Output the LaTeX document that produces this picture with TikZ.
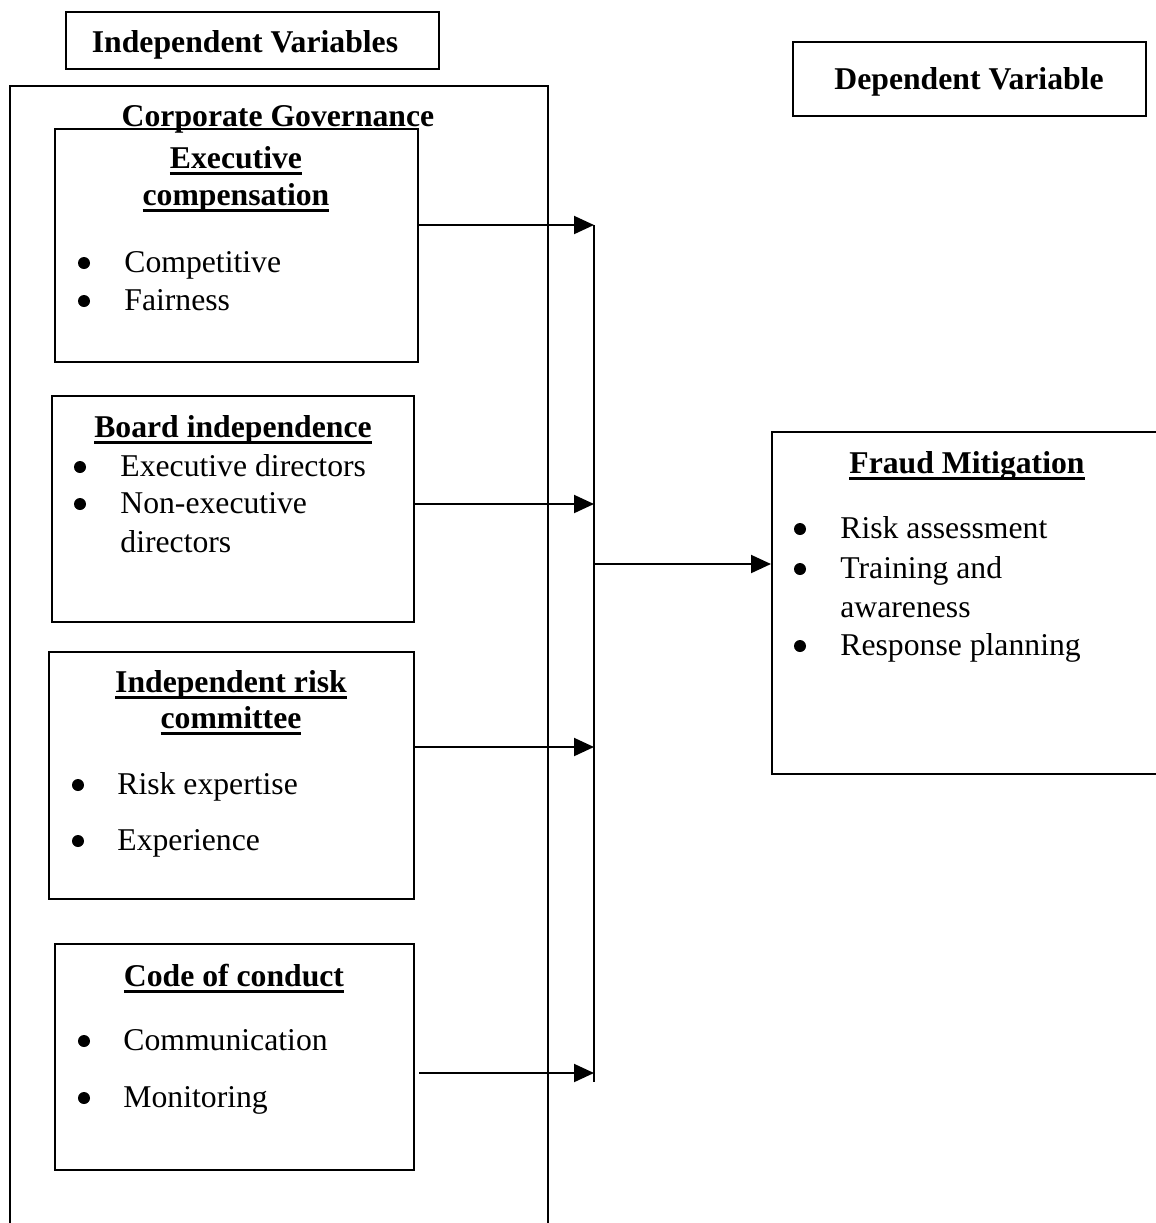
\documentclass[tikz,border=0pt]{standalone}
\usepackage{fontspec}
\setmainfont{Liberation Serif}
\usetikzlibrary{arrows.meta,fit}
\newsavebox\ulbox
\newcommand\ulbf[1]{\sbox\ulbox{\bfseries #1}\rlap{\rule[-3.3pt]{\wd\ulbox}{1.4pt}}\usebox\ulbox}
\tikzset{
  box/.style={draw, line width=1pt, inner sep=0pt},
  txt/.style={anchor=base west, inner sep=0pt, font=\fontsize{15.85}{19}\selectfont},
  ttl/.style={anchor=base, inner sep=0pt, font=\fontsize{15.85}{19}\selectfont\bfseries},
  bul/.style={circle, fill, inner sep=0pt, minimum size=6pt, yshift=4.5pt},
  arr/.style={-{Triangle[length=10pt,width=9pt]}, line width=1pt},
  bus/.style={line width=1pt}
}
\begin{document}
\begin{tikzpicture}[x=0.5pt,y=-0.5pt]
\useasboundingbox (0,0) rectangle (1156,1223);

% header boxes
\node[box, fit={(66,12) (439,69)}] (ivbox) {};
\node[ttl] (ivtxt) at (245,52) {Independent Variables};
\node[box, fit={(793,42) (1146,116)}] (dvbox) {};
\node[ttl] (dvtxt) at (969,89) {Dependent Variable};

% outer corporate governance box (open at the bottom of the page)
\node[box, fit={(10,86) (548,1260)}] (cg) {};
\node[ttl] (cgtxt) at (278,126) {Corporate Governance};

% Executive compensation
\node[box, fit={(55,129) (418,362)}] (exec) {};
\node[ttl] (exec1) at (236,168) {\ulbf{Executive}};
\node[ttl] (exec2) at (236,205) {\ulbf{compensation}};
\node[bul] (execb1) at (84,272) {};
\node[txt] (exect1) at (124,272) {Competitive};
\node[bul] (execb2) at (84,310) {};
\node[txt] (exect2) at (124,310) {Fairness};

% Board independence
\node[box, fit={(52,396) (414,622)}] (board) {};
\node[ttl] (board1) at (233,437) {\ulbf{Board independence}};
\node[bul] (boardb1) at (80,476) {};
\node[txt] (boardt1) at (120,476) {Executive directors};
\node[bul] (boardb2) at (80,513) {};
\node[txt] (boardt2) at (120,513) {Non-executive};
\node[txt] (boardt3) at (120,552) {directors};

% Independent risk committee
\node[box, fit={(49,652) (414,899)}] (risk) {};
\node[ttl] (risk1) at (231,692) {\ulbf{Independent risk}};
\node[ttl] (risk2) at (231,728) {\ulbf{committee}};
\node[bul] (riskb1) at (78,794) {};
\node[txt] (riskt1) at (117,794) {Risk expertise};
\node[bul] (riskb2) at (78,850) {};
\node[txt] (riskt2) at (117,850) {Experience};

% Code of conduct
\node[box, fit={(55,944) (414,1170)}] (code) {};
\node[ttl] (code1) at (234,986) {\ulbf{Code of conduct}};
\node[bul] (codeb1) at (84,1050) {};
\node[txt] (codet1) at (123,1050) {Communication};
\node[bul] (codeb2) at (84,1107) {};
\node[txt] (codet2) at (123,1107) {Monitoring};

% Fraud mitigation (right side runs off the page)
\node[box, fit={(772,432) (1180,774)}] (fraud) {};
\node[ttl] (fraud1) at (967,473) {\ulbf{Fraud Mitigation}};
\node[bul] (fraudb1) at (800,538) {};
\node[txt] (fraudt1) at (840,538) {Risk assessment};
\node[bul] (fraudb2) at (800,578) {};
\node[txt] (fraudt2) at (840,578) {Training and};
\node[txt] (fraudt3) at (840,617) {awareness};
\node[bul] (fraudb3) at (800,655) {};
\node[txt] (fraudt4) at (840,655) {Response planning};

% bus line and arrows
\coordinate (bustop) at (594,225);
\coordinate (busbot) at (594,1082);
\coordinate (b1) at (594,225);
\coordinate (b2) at (594,504);
\coordinate (b3) at (594,747);
\coordinate (b4) at (594,1073);
\coordinate (bm) at (594,564);
\draw[bus] (bustop) -- (busbot);
\draw[arr] (exec.east |- b1) -- (b1);
\draw[arr] (board.east |- b2) -- (b2);
\draw[arr] (risk.east |- b3) -- (b3);
\draw[arr] ([xshift=2pt]code.east |- b4) -- (b4);
\draw[arr] (bm) -- (fraud.west |- bm);
\end{tikzpicture}
\end{document}
